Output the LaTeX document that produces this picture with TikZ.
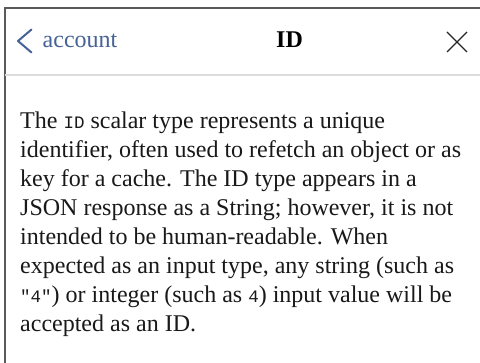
\documentclass[tikz,border=0pt]{standalone}
\usepackage{fontspec}
\setmainfont{Liberation Serif}
\setmonofont{Liberation Mono}
\definecolor{linkblue}{RGB}{70,98,150}
\definecolor{bodytxt}{RGB}{25,25,25}
\definecolor{framegray}{RGB}{90,90,90}
\definecolor{sepgray}{RGB}{220,220,220}
\newcommand{\mycode}[1]{{\ttfamily\fontsize{17.5}{29}\selectfont #1}}
\begin{document}
\begin{tikzpicture}[x=1pt,y=-1pt,
  bodyline/.style={anchor=base west,inner sep=0pt,text=bodytxt,font=\fontsize{24}{29}\selectfont},
  headtxt/.style={anchor=base west,inner sep=0pt,font=\fontsize{24}{29}\selectfont}]
\useasboundingbox (0,0) rectangle (480,363);
\fill[white] (0,0) rectangle (480,363);
% frame
\coordinate (ftr) at (480,8);
\coordinate (ftl) at (5,8);
\coordinate (fbl) at (5,363);
\draw[framegray,line width=1.3pt] (ftr) -- (ftl) -- (fbl);
% separator
\coordinate (sl) at (5,75);
\coordinate (sr) at (480,75);
\draw[sepgray,line width=1.5pt] (sl) -- (sr);
% back chevron
\coordinate (c1) at (31.5,29.5);
\coordinate (c2) at (18,41);
\coordinate (c3) at (31.5,52.5);
\draw[linkblue,line width=2pt,line cap=round,line join=round] (c1) -- (c2) -- (c3);
\node[headtxt,text=linkblue] (acc) at (42.5,48) {account};
\node[headtxt,text=black,font=\fontsize{24}{29}\selectfont\bfseries] (title) at (276,48) {ID};
% close cross
\coordinate (x1) at (447,32);
\coordinate (x2) at (467,52);
\coordinate (x3) at (467,32);
\coordinate (x4) at (447,52);
\draw[black!85,line width=1.4pt] (x1) -- (x2) (x3) -- (x4);
% body
\node[bodyline] (l1) at (20,129) {The \mycode{ID} scalar type represents a unique};
\node[bodyline] (l2) at (20,158) {identifier, often used to refetch an object or as};
\node[bodyline] (l3) at (20,187) {key for a cache. The ID type appears in a};
\node[bodyline] (l4) at (20,216) {JSON response as a String; however, it is not};
\node[bodyline] (l5) at (20,245) {intended to be human-readable. When};
\node[bodyline] (l6) at (20,274) {expected as an input type, any string (such as};
\node[bodyline] (l7) at (20,303) {\mycode{"4"}) or integer (such as \mycode{4}) input value will be};
\node[bodyline] (l8) at (20,332) {accepted as an ID.};
\end{tikzpicture}
\end{document}
